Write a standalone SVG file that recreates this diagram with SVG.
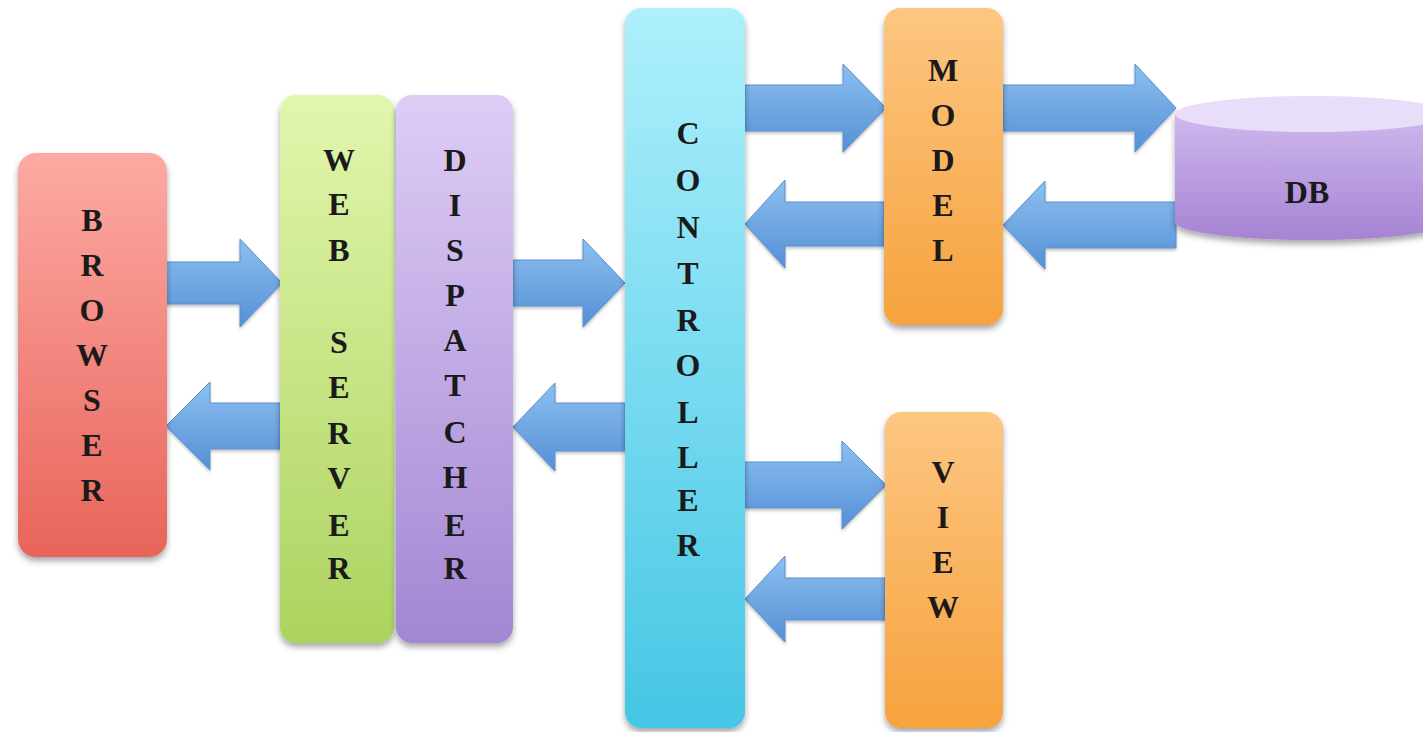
<svg xmlns="http://www.w3.org/2000/svg" width="1423" height="732" viewBox="0 0 1423 732">
<defs>
<style>
.lbl{font-family:"Liberation Serif","Times New Roman",serif;font-weight:bold;font-size:32px;fill:#1a1a1a;text-anchor:middle}
.arrow{fill:url(#gArrow);stroke:#5a8fcf;stroke-width:1;filter:url(#sh2)}
.box{filter:url(#sh)}
</style>
<filter id="sh" x="-20%" y="-10%" width="140%" height="125%">
<feDropShadow dx="0" dy="4" stdDeviation="3" flood-color="#000" flood-opacity="0.35"/>
</filter>
<filter id="sh2" x="-10%" y="-10%" width="120%" height="130%">
<feDropShadow dx="0" dy="2" stdDeviation="1.5" flood-color="#000" flood-opacity="0.25"/>
</filter>
<linearGradient id="gArrow" x1="0" y1="0" x2="0" y2="1">
<stop offset="0" stop-color="#8cc0f0"/>
<stop offset="1" stop-color="#5590d6"/>
</linearGradient>
<linearGradient id="gBrowser" x1="0" y1="0" x2="0" y2="1">
<stop offset="0" stop-color="#fcaaa3"/>
<stop offset="1" stop-color="#e8645b"/>
</linearGradient>
<linearGradient id="gWeb" x1="0" y1="0" x2="0" y2="1">
<stop offset="0" stop-color="#e2f6ad"/>
<stop offset="1" stop-color="#acd35f"/>
</linearGradient>
<linearGradient id="gDisp" x1="0" y1="0" x2="0" y2="1">
<stop offset="0" stop-color="#ddcdf5"/>
<stop offset="1" stop-color="#a386d3"/>
</linearGradient>
<linearGradient id="gCtrl" x1="0" y1="0" x2="0" y2="1">
<stop offset="0" stop-color="#aef0fb"/>
<stop offset="1" stop-color="#45c6e5"/>
</linearGradient>
<linearGradient id="gOrange" x1="0" y1="0" x2="0" y2="1">
<stop offset="0" stop-color="#fdc681"/>
<stop offset="1" stop-color="#f6a23e"/>
</linearGradient>
<linearGradient id="gDB" x1="0" y1="0" x2="0" y2="1">
<stop offset="0" stop-color="#cfb8ee"/>
<stop offset="1" stop-color="#a584d3"/>
</linearGradient>
</defs>
<rect width="1423" height="732" fill="#ffffff"/>

<g id="connectors">
<path class="arrow" d="M166,262 L240,262 L240,239 L282,283 L240,327 L240,304 L166,304 Z"/>
<path class="arrow" d="M280,403 L210,403 L210,382 L166,426 L210,470 L210,449 L280,449 Z"/>
<path class="arrow" d="M513,260 L583,260 L583,239 L625,283 L583,327 L583,306 L513,306 Z"/>
<path class="arrow" d="M625,403 L555,403 L555,383 L513,427 L555,471 L555,451 L625,451 Z"/>
<path class="arrow" d="M745,85 L843,85 L843,64 L886,108 L843,152 L843,131 L745,131 Z"/>
<path class="arrow" d="M884,202 L785,202 L785,180 L745,224 L785,268 L785,246 L884,246 Z"/>
<path class="arrow" d="M1003,85 L1135,85 L1135,64 L1176,108 L1135,152 L1135,131 L1003,131 Z"/>
<path class="arrow" d="M1176,202 L1045,202 L1045,181 L1003,225 L1045,269 L1045,248 L1176,248 Z"/>
<path class="arrow" d="M745,462 L842,462 L842,441 L886,485 L842,529 L842,508 L745,508 Z"/>
<path class="arrow" d="M885,578 L785,578 L785,556 L745,599 L785,642 L785,620 L885,620 Z"/>
</g>

<g id="browser">
<rect class="box" x="18" y="153" width="149" height="404" rx="18" fill="url(#gBrowser)"/>
<text class="lbl"><tspan x="92" y="231">B</tspan><tspan x="92" y="276">R</tspan><tspan x="92" y="321">O</tspan><tspan x="92" y="366">W</tspan><tspan x="92" y="411">S</tspan><tspan x="92" y="456">E</tspan><tspan x="92" y="501">R</tspan></text>
</g>

<g id="webserver">
<rect class="box" x="280" y="95" width="114" height="548" rx="16" fill="url(#gWeb)"/>
<text class="lbl"><tspan x="339" y="171">W</tspan><tspan x="339" y="215">E</tspan><tspan x="339" y="261">B</tspan><tspan x="339" y="353">S</tspan><tspan x="339" y="398">E</tspan><tspan x="339" y="444">R</tspan><tspan x="339" y="489">V</tspan><tspan x="339" y="536">E</tspan><tspan x="339" y="579">R</tspan></text>
</g>

<g id="dispatcher">
<rect class="box" x="396" y="95" width="117" height="548" rx="16" fill="url(#gDisp)"/>
<text class="lbl"><tspan x="455" y="171">D</tspan><tspan x="455" y="216">I</tspan><tspan x="455" y="261">S</tspan><tspan x="455" y="306">P</tspan><tspan x="455" y="351">A</tspan><tspan x="455" y="396">T</tspan><tspan x="455" y="443">C</tspan><tspan x="455" y="488">H</tspan><tspan x="455" y="536">E</tspan><tspan x="455" y="579">R</tspan></text>
</g>

<g id="controller">
<rect class="box" x="625" y="8" width="120" height="720" rx="16" fill="url(#gCtrl)"/>
<text class="lbl"><tspan x="688" y="144">C</tspan><tspan x="688" y="191">O</tspan><tspan x="688" y="238">N</tspan><tspan x="688" y="284">T</tspan><tspan x="688" y="331">R</tspan><tspan x="688" y="376">O</tspan><tspan x="688" y="423">L</tspan><tspan x="688" y="468">L</tspan><tspan x="688" y="511">E</tspan><tspan x="688" y="556">R</tspan></text>
</g>

<g id="model">
<rect class="box" x="884" y="8" width="119" height="317" rx="16" fill="url(#gOrange)"/>
<text class="lbl"><tspan x="943" y="81">M</tspan><tspan x="943" y="126">O</tspan><tspan x="943" y="171">D</tspan><tspan x="943" y="216">E</tspan><tspan x="943" y="261">L</tspan></text>
</g>

<g id="view">
<rect class="box" x="885" y="412" width="118" height="316" rx="16" fill="url(#gOrange)"/>
<text class="lbl"><tspan x="943" y="483">V</tspan><tspan x="943" y="528">I</tspan><tspan x="943" y="573">E</tspan><tspan x="943" y="618">W</tspan></text>
</g>

<g id="db">
<path class="box" d="M1175,114 L1175,222 A137,18 0 0 0 1449,222 L1449,114 Z" fill="url(#gDB)"/>
<ellipse cx="1312" cy="114" rx="137" ry="18" fill="#e9defa"/>
<text class="lbl" x="1307" y="203">DB</text>
</g>
</svg>
